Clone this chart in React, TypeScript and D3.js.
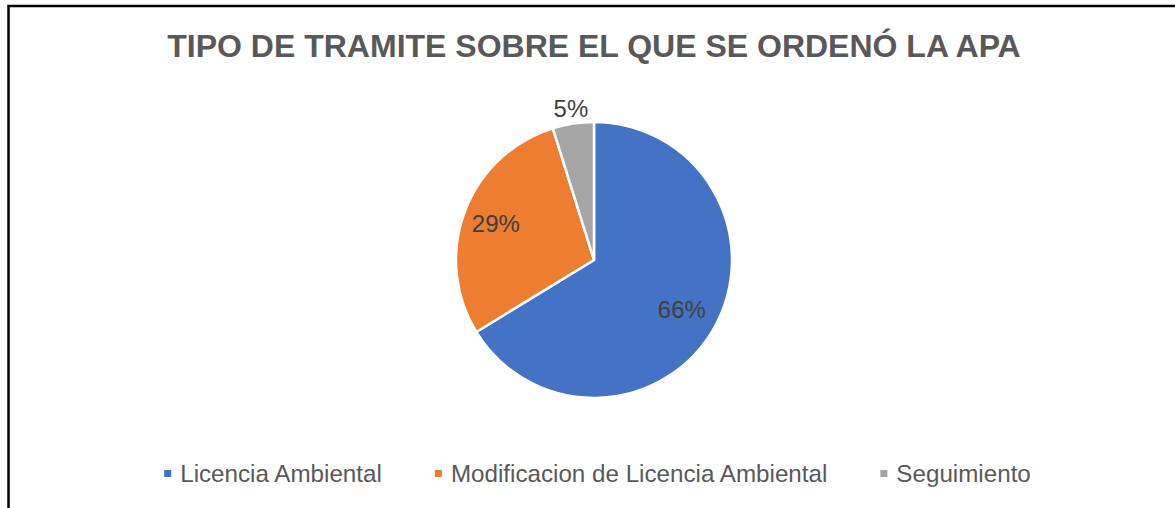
import React, { useEffect, useRef } from "react";
import * as d3 from "d3";

const categories = ["Licencia Ambiental", "Modificacion de Licencia Ambiental", "Seguimiento"];
const values = [55, 24, 4];
const labels = ["66%", "29%", "5%"];
const colors = ["#4472C4", "#ED7D31", "#A5A5A5"];
const title = "TIPO DE TRAMITE SOBRE EL QUE SE ORDENÓ LA APA";

const W = 1175;
const H = 508;
const FONT = "'Liberation Sans', Arial, sans-serif";

export default function App() {
  const ref = useRef<SVGSVGElement | null>(null);

  useEffect(() => {
    const svg = d3.select(ref.current);
    svg.selectAll("*").remove();

    svg.append("rect").attr("width", W).attr("height", H).attr("fill", "#fff");
    svg.append("rect")
      .attr("x", 8.5).attr("y", 6).attr("width", W + 50).attr("height", H + 50)
      .attr("fill", "none").attr("stroke", "#000").attr("stroke-width", 2.5);

    svg.append("text")
      .attr("x", 594).attr("y", 57)
      .attr("text-anchor", "middle")
      .attr("font-family", FONT).attr("font-weight", "bold")
      .attr("font-size", 32).attr("fill", "#595959")
      .text(title);

    const cx = 594, cy = 260, r = 138;
    const pie = d3.pie<number>().sort(null).value((d) => d);
    const arcs = pie(values);
    const arc = d3.arc<d3.PieArcDatum<number>>().innerRadius(0).outerRadius(r);
    const g = svg.append("g").attr("transform", `translate(${cx},${cy})`);
    g.selectAll("path").data(arcs).enter().append("path")
      .attr("d", arc as any)
      .attr("fill", (_, i) => colors[i])
      .attr("stroke", "#fff").attr("stroke-width", 2.5).attr("stroke-linejoin", "round");

    const labelR = [0.73 * r, 0.76 * r, 1.11 * r];
    g.selectAll("text.lbl").data(arcs).enter().append("text")
      .attr("class", "lbl")
      .attr("x", (d, i) => Math.sin((d.startAngle + d.endAngle) / 2) * labelR[i])
      .attr("y", (d, i) => -Math.cos((d.startAngle + d.endAngle) / 2) * labelR[i])
      .attr("dy", "0.36em")
      .attr("text-anchor", "middle")
      .attr("font-family", FONT).attr("font-size", 24).attr("fill", "#404040")
      .text((_, i) => labels[i]);

    // legend
    const lg = svg.append("g");
    const texts: any[] = [];
    categories.forEach((c) => {
      const t = lg.append("text")
        .attr("font-family", FONT).attr("font-size", 24.2).attr("fill", "#595959")
        .attr("y", 482).text(c);
      texts.push(t);
    });
    const sq = 7, gap = 9, spacing = 53;
    const widths = texts.map((t) => (t.node() as SVGTextElement).getComputedTextLength());
    const total = widths.reduce((a, w) => a + sq + gap + w, 0) + spacing * (categories.length - 1);
    let x = 597.5 - total / 2;
    categories.forEach((c, i) => {
      lg.append("rect").attr("x", x).attr("y", 470).attr("width", sq).attr("height", sq).attr("fill", colors[i]);
      texts[i].attr("x", x + sq + gap);
      x += sq + gap + widths[i] + spacing;
    });
  }, []);

  return (
    <svg
      ref={ref}
      width={W}
      height={H}
      style={{ position: "absolute", left: 0, top: 0, display: "block" }}
    />
  );
}
